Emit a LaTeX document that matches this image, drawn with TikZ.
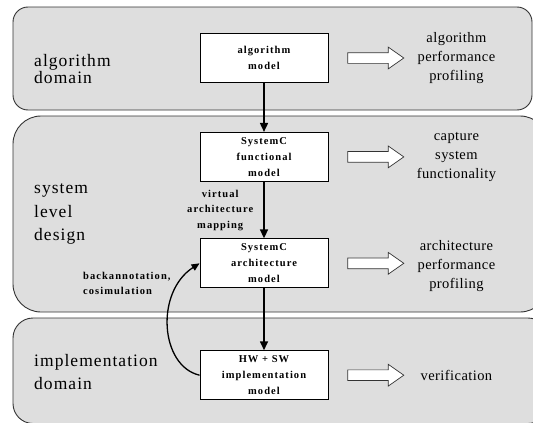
\documentclass[tikz,border=0pt]{standalone}
\usepackage{fontspec}
\setmainfont{Liberation Serif}
\newfontfamily\domainfont[LetterSpace=6]{Liberation Serif}
\newfontfamily\resultfont[LetterSpace=3]{Liberation Serif}
\newfontfamily\modelfont[LetterSpace=10]{Liberation Serif}
\usetikzlibrary{positioning}
\usetikzlibrary{arrows.meta}
\usetikzlibrary{shapes.arrows}
\definecolor{panelgray}{HTML}{DEDEDE}
\tikzset{node distance=49pt, % gap between two models
panel/.style={ % grey rounded band for each domain
draw=black!80,
line width=0.9pt,
fill=panelgray},
model/.style={ % white box for each model
draw,
line width=0.9pt,
fill=white,
minimum width=128pt,
minimum height=49pt,
inner sep=0pt,
align=center,
font=\modelfont\bfseries\fontsize{10.5}{16}\selectfont},
domainlabel/.style={ % name of a domain, on the left
anchor=west,
inner sep=0pt,
align=left,
font=\domainfont\fontsize{17.5}{23.5}\selectfont},
result/.style={ % outcome, on the right
inner sep=0pt,
align=center,
font=\resultfont\fontsize{14.5}{19}\selectfont},
note/.style={ % small bold label
inner sep=0pt,
align=center,
font=\modelfont\bfseries\fontsize{10.5}{15.5}\selectfont},
fat arrow/.style={ % hollow block arrow
single arrow,
draw=black!80,
line width=0.7pt,
fill=white,
minimum height=56pt,
inner xsep=0pt,
inner ysep=5pt,
single arrow head extend=5.5pt,
single arrow tip angle=70},
flow/.style={ % refinement step
-{Triangle[length=9pt,width=8pt]},
line width=1.6pt},
loop back/.style={ % feedback arc
-{Triangle[length=8pt,width=7pt]},
line width=1.3pt}}

\begin{document}
\begin{tikzpicture}[x=1pt,y=-1pt]
\useasboundingbox (0,0) rectangle (533,423);
\clip (0,0) rectangle (533,423);

% domain bands
\draw[panel, rounded corners=15pt] (13,7) rectangle (532,110);
\draw[panel, rounded corners=28pt] (13,116) rectangle (548,312);
\draw[panel, rounded corners=20pt] (13,318) rectangle (548,423.5);

\node[domainlabel, font=\domainfont\fontsize{17.5}{17}\selectfont] (dalg) at (34,69) {algorithm\\domain};
\node[domainlabel] (dsys) at (34,214) {system\\level\\design};
\node[domainlabel] (dimpl) at (34,372) {implementation\\domain};

% models
\node[model] (alg) at (264,58) {algorithm\\model};
\node[model, below=49pt of alg] (func) {SystemC\\functional\\model};
\node[model, below=56.5pt of func] (arch) {SystemC\\architecture\\model};
\node[model, below=62pt of arch] (impl) {HW + SW\\implementation\\model};

% block arrows and outcomes
\node[fat arrow, right=19pt of alg] (a1) {};
\node[fat arrow, right=19pt of func] (a2) {};
\node[fat arrow, right=19pt of arch] (a3) {};
\node[fat arrow, right=19pt of impl] (a4) {};

\node[result, right=52pt of a1.tip, anchor=center] (r1) {algorithm\\performance\\profiling};
\node[result, right=52pt of a2.tip, anchor=center] (r2) {capture\\system\\functionality};
\node[result, right=52pt of a3.tip, anchor=center, yshift=-3pt] (r3) {architecture\\performance\\profiling};
\node[result, right=52pt of a4.tip, anchor=center] (r4) {verification};

% refinement steps
\draw[flow] (alg) -- (func);
\draw[flow] (func) -- node[note, left=10pt] (vmap) {virtual\\architecture\\mapping} (arch);
\draw[flow] (arch) -- (impl);

% feedback
\draw[loop back] (impl.west) .. controls (160,366) and (155,292) .. (arch.west);
\node[note, anchor=west, align=left] (back) at (83,283.5) {backannotation,\\cosimulation};
\end{tikzpicture}
\end{document}
